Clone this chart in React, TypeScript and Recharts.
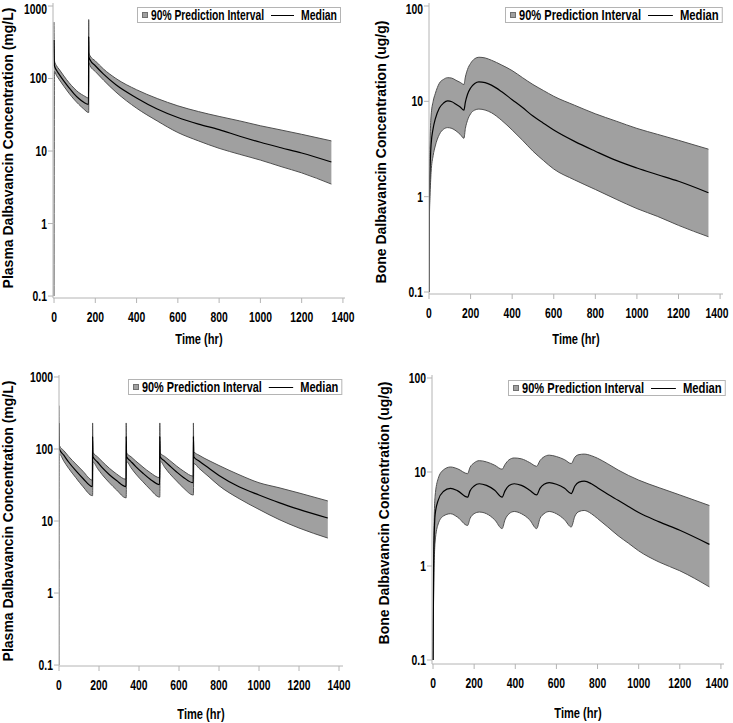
import { Area, ComposedChart, Line, XAxis, YAxis } from 'recharts'

// ---- plasma, two doses (top left)
const plasma2Time = [0, 2, 12, 24, 48, 72, 96, 120, 144, 167, 168, 169, 175, 200, 240, 300, 400, 500, 600, 700, 800, 900, 1000, 1100, 1200, 1344]
const plasma2Low = [0.1, 125, 110, 98, 78, 63, 52, 44, 38, 34, 34, 165, 150, 125, 95, 65, 39, 26, 18, 13.8, 10.9, 9, 7.5, 6.1, 5.0, 3.5]
const plasma2Median = [340, 150, 130, 115, 92, 75, 62, 53, 47, 44, 380, 200, 180, 150, 115, 82, 54, 38, 29, 23.5, 19.7, 16, 13.2, 11.1, 9.4, 7.05]
const plasma2High = [600, 175, 150, 135, 108, 88, 74, 64, 58, 54, 650, 230, 205, 175, 135, 100, 70, 53, 42, 35, 30, 26, 22.3, 19.5, 17, 13.8]

// ---- bone, two doses (top right)
const bone2Time = [0, 2, 5, 10, 20, 30, 50, 70, 90, 110, 130, 150, 168, 175, 185, 200, 220, 240, 270, 300, 350, 400, 450, 500, 550, 600, 700, 800, 900, 1000, 1100, 1200, 1344]
const bone2Low = [0.1, 0.6, 1.0, 1.8, 2.7, 3.4, 4.5, 5.1, 5.3, 5.2, 4.9, 4.5, 4.1, 5.2, 6.3, 7.4, 8.1, 8.3, 8.1, 7.6, 6.3, 5, 3.9, 3.0, 2.4, 1.95, 1.5, 1.19, 0.94, 0.75, 0.62, 0.5, 0.38]
const bone2Median = [0.1, 1.2, 2.0, 3.5, 5.2, 6.5, 8.5, 9.6, 10.1, 9.9, 9.3, 8.7, 8.1, 9.8, 11.8, 13.8, 15.4, 16, 15.7, 14.8, 12.6, 10.4, 8.6, 7.0, 5.9, 5.0, 3.8, 3.0, 2.4, 2.0, 1.7, 1.45, 1.1]
const bone2High = [0.1, 2.2, 4.0, 7, 10, 12, 15.5, 17, 17.7, 17.5, 16.6, 15.8, 15, 18, 21.5, 25, 28, 29, 28.5, 27, 24, 21, 17.7, 15, 13, 11.3, 9.1, 7.4, 6.2, 5.2, 4.5, 3.9, 3.15]

// ---- plasma, five doses (bottom left)
const plasma5Time = [
  0, 2, 24, 48, 84, 120, 167,
  168, 170, 192, 216, 252, 288, 335,
  336, 338, 360, 384, 420, 456, 503,
  504, 506, 528, 552, 588, 624, 671,
  672, 674, 700, 750, 800, 900, 1000, 1100, 1200, 1344,
]
const plasma5Low = [
  0.1, 85, 68, 54, 40, 30, 22.5,
  22.5, 66, 54, 44, 34, 27, 21,
  21, 67, 55, 45, 35, 27.5, 21.5,
  21.5, 68, 56, 46, 36, 28.5, 23,
  23, 63, 54, 41, 31, 20.5, 14.5, 10.5, 8.0, 5.8,
]
const plasma5Median = [
  230, 100, 82, 66, 50, 39, 30,
  150, 78, 66, 55, 44, 36.5, 30,
  150, 78, 67, 57, 46, 38, 32,
  150, 78, 68, 59, 48, 40, 34,
  150, 78, 68, 54, 43, 30, 23, 18, 14.5, 11,
]
const plasma5High = [
  400, 112, 95, 79, 62, 49, 37,
  230, 90, 78, 67, 54, 45, 38,
  230, 88, 78, 68, 56, 47, 40,
  230, 88, 79, 70, 58, 49, 42,
  230, 92, 82, 69, 59, 44, 34, 29, 24.5, 19,
]

// ---- bone, five doses (bottom right)
const bone5Time = [0, 3, 10, 25, 50, 85, 120, 168, 180, 200, 225, 260, 300, 336, 350, 370, 395, 430, 470, 504, 520, 540, 565, 600, 640, 672, 690, 710, 735, 770, 800, 850, 900, 950, 1000, 1100, 1200, 1344]
const bone5Low = [0.1, 0.5, 1.8, 2.8, 3.4, 3.6, 3.3, 2.7, 3.2, 3.6, 3.75, 3.6, 3.1, 2.5, 3.1, 3.6, 3.8, 3.6, 3.1, 2.5, 3.2, 3.6, 3.8, 3.6, 3.1, 2.6, 3.4, 3.8, 3.9, 3.6, 3.2, 2.6, 2.1, 1.75, 1.45, 1.1, 0.89, 0.6]
const bone5Median = [0.1, 1.0, 3.5, 5.0, 6.2, 6.7, 6.3, 5.4, 6.3, 7.1, 7.5, 7.2, 6.4, 5.4, 6.3, 7.2, 7.5, 7.2, 6.4, 5.7, 6.7, 7.4, 7.7, 7.4, 6.7, 5.9, 7.1, 7.8, 8.0, 7.5, 6.8, 5.8, 5.0, 4.3, 3.7, 2.95, 2.4, 1.7]
const bone5High = [0.1, 1.6, 5.5, 8.5, 10.5, 11.3, 10.8, 9.6, 11.2, 12.5, 13.2, 12.8, 11.8, 10.7, 12, 13.5, 14.1, 13.8, 12.6, 11.5, 13.2, 14.5, 15.1, 14.6, 13.5, 12.3, 14.4, 15.3, 15.5, 14.9, 14, 12.2, 10.5, 9.2, 8.2, 6.8, 5.7, 4.4]

const timeTicks = [0, 200, 400, 600, 800, 1000, 1200, 1400]
const plasmaTicks = [0.1, 1, 10, 100, 1000]
const boneTicks = [0.1, 1, 10, 100]

const plasmaTitle = 'Plasma Dalbavancin Concentration (mg/L)'
const boneTitle = 'Bone Dalbavancin Concentration (ug/g)'
const legendBand = '90% Prediction Interval'
const legendLine = 'Median'

const SANS = '"Liberation Sans", Arial, sans-serif'
const FRAME = '#b4b4b4'
const SQUEEZE = 0.74

function rows(t: number[], lo: number[], med: number[], hi: number[]) {
  return t.map((x, i) => ({ t: x, band: [lo[i], hi[i]], median: med[i] }))
}

type PanelCfg = {
  left: number
  top: number
  width: number
  height: number
  margin: { top: number; right: number; bottom: number; left: number }
  data: ReturnType<typeof rows>
  xDomain: [number, number]
  yDomain: [number, number]
  yTicks: number[]
  title: string
  titleX: number
  titleY: number
  xTitleY: number
  legend: { left: number; top: number; k: number }
}

const panels: PanelCfg[] = [
  {
    left: 0, top: 0, width: 366, height: 360,
    margin: { top: 3, right: 21, bottom: 32, left: 8 },
    data: rows(plasma2Time, plasma2Low, plasma2Median, plasma2High),
    xDomain: [-5, 1410], yDomain: [0.094, 1100], yTicks: plasmaTicks,
    title: plasmaTitle, titleX: 8, titleY: 148, xTitleY: 338,
    legend: { left: 137, top: 7, k: 1 },
  },
  {
    left: 366, top: 0, width: 367, height: 360,
    margin: { top: 3, right: 10, bottom: 36, left: 18 },
    data: rows(bone2Time, bone2Low, bone2Median, bone2High),
    xDomain: [0, 1414], yDomain: [0.0953, 107.5], yTicks: boneTicks,
    title: boneTitle, titleX: 15, titleY: 152, xTitleY: 338,
    legend: { left: 139, top: 7, k: 1.08 },
  },
  {
    left: 0, top: 360, width: 366, height: 363,
    margin: { top: 15, right: 23, bottom: 27, left: 14 },
    data: rows(plasma5Time, plasma5Low, plasma5Median, plasma5High),
    xDomain: [0, 1420], yDomain: [0.097, 1066], yTicks: plasmaTicks,
    title: plasmaTitle, titleX: 8, titleY: 161, xTitleY: 353,
    legend: { left: 128, top: 19, k: 1.06 },
  },
  {
    left: 366, top: 360, width: 367, height: 363,
    margin: { top: 15, right: 9, bottom: 29, left: 21 },
    data: rows(bone5Time, bone5Low, bone5Median, bone5High),
    xDomain: [-5, 1415], yDomain: [0.0907, 107.6], yTicks: boneTicks,
    title: boneTitle, titleX: 18, titleY: 153, xTitleY: 352,
    legend: { left: 142, top: 20, k: 1.08 },
  },
]

function XTick(props: any) {
  const { x, y, payload } = props
  return (
    <g transform={`translate(${x},${y})`}>
      <text transform={`scale(${SQUEEZE},1)`} textAnchor="middle" dy="0.71em"
        fontFamily={SANS} fontWeight={700} fontSize={14} fill="#000">
        {payload.value}
      </text>
    </g>
  )
}

function YTick(props: any) {
  const { x, y, payload } = props
  return (
    <g transform={`translate(${x},${y})`}>
      <text transform={`scale(${SQUEEZE},1)`} textAnchor="end" dy="0.355em"
        fontFamily={SANS} fontWeight={700} fontSize={14} fill="#000">
        {payload.value}
      </text>
    </g>
  )
}

function LegendBox({ left, top, k }: { left: number; top: number; k: number }) {
  const textW = 113 * k
  const lineW = 23 * k
  const medW = 36 * k
  const tx = 14
  const lx = tx + textW + 7
  const mx = lx + lineW + 7
  const width = mx + medW + 4
  return (
    <svg style={{ position: 'absolute', left, top, overflow: 'visible' }} width={width + 4} height={18}>
      <rect x={0.5} y={0.5} width={width - 1} height={15} fill="#fff" stroke={FRAME} />
      <rect x={5.5} y={5.5} width={5} height={5} fill="#a0a0a0" stroke="#707070" />
      <text x={tx} y={13} fontFamily={SANS} fontWeight={700} fontSize={14}
        textLength={textW} lengthAdjust="spacingAndGlyphs">{legendBand}</text>
      <line x1={lx} x2={lx + lineW} y1={8.5} y2={8.5} stroke="#000" strokeWidth={1} />
      <text x={mx} y={13} fontFamily={SANS} fontWeight={700} fontSize={14}
        textLength={medW} lengthAdjust="spacingAndGlyphs">{legendLine}</text>
    </svg>
  )
}

function Panel({ cfg }: { cfg: PanelCfg }) {
  const plotLeft = cfg.margin.left + 45
  const plotRight = cfg.width - cfg.margin.right
  return (
    <div style={{ position: 'absolute', left: cfg.left, top: cfg.top, width: cfg.width, height: cfg.height }}>
      <ComposedChart width={cfg.width} height={cfg.height} data={cfg.data} margin={cfg.margin}>
        <XAxis
          dataKey="t" type="number" domain={cfg.xDomain} ticks={timeTicks} allowDataOverflow
          tick={<XTick />} tickSize={5} tickMargin={9} height={30}
          tickLine={{ stroke: FRAME }} axisLine={{ stroke: FRAME }}
        />
        <XAxis
          xAxisId="top" orientation="top" dataKey="t" type="number" domain={cfg.xDomain}
          tick={false} tickLine={false} height={0} axisLine={{ stroke: FRAME }}
        />
        <YAxis
          scale="log" type="number" domain={cfg.yDomain} ticks={cfg.yTicks} allowDataOverflow
          tick={<YTick />} tickSize={5} tickMargin={1} width={45}
          tickLine={{ stroke: FRAME }} axisLine={{ stroke: FRAME }}
        />
        <YAxis
          yAxisId="right" orientation="right" type="number" domain={[0, 1]}
          tick={false} tickLine={false} width={0} axisLine={{ stroke: FRAME }}
        />
        <Area
          dataKey="band" type="monotoneX" fill="#a0a0a0" fillOpacity={1}
          stroke="#505050" strokeWidth={1} isAnimationActive={false}
        />
        <Line
          dataKey="median" type="monotoneX" stroke="#000" strokeWidth={1.2}
          dot={false} isAnimationActive={false}
        />
      </ComposedChart>
      <LegendBox {...cfg.legend} />
      <div
        style={{
          position: 'absolute', left: cfg.titleX, top: cfg.titleY, width: 0, height: 0,
          display: 'flex', alignItems: 'center', justifyContent: 'center',
        }}
      >
        <div
          style={{
            transform: 'rotate(-90deg)', whiteSpace: 'nowrap', fontFamily: SANS,
            fontWeight: 700, fontSize: 14, lineHeight: '16px', color: '#000',
          }}
        >
          {cfg.title}
        </div>
      </div>
      <div
        style={{
          position: 'absolute', left: (plotLeft + plotRight) / 2, top: cfg.xTitleY, width: 0, height: 0,
          display: 'flex', alignItems: 'center', justifyContent: 'center',
        }}
      >
        <div
          style={{
            transform: `scale(${SQUEEZE},1)`, whiteSpace: 'nowrap', fontFamily: SANS,
            fontWeight: 700, fontSize: 15, lineHeight: '17px', color: '#000',
          }}
        >
          Time (hr)
        </div>
      </div>
    </div>
  )
}

export default function App() {
  return (
    <div style={{ position: 'absolute', left: 0, top: 0, width: 733, height: 723, background: '#fff' }}>
      {panels.map((p, i) => (
        <Panel key={i} cfg={p} />
      ))}
    </div>
  )
}
